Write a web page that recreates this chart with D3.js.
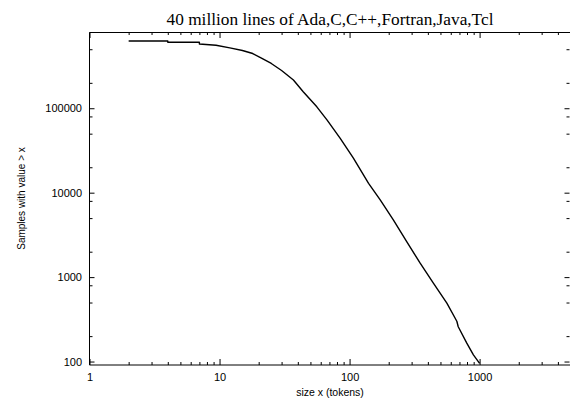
<!DOCTYPE html>
<html>
<head>
<meta charset="utf-8">
<script src="https://cdn.jsdelivr.net/npm/d3@7"></script>
<style>
html,body{margin:0;padding:0;background:#fff;}
svg{display:block;}
</style>
</head>
<body>
<script>
// ---- data ----
const sizes   = [2, 4, 4, 7, 7, 9.4, 12, 15, 18, 21, 25, 30, 37, 44, 56, 67, 84.5, 107, 140, 172, 217, 275, 349, 441, 560, 668, 685, 797, 896, 1000];
const samples = [626000, 626000, 604000, 604000, 577000, 557000, 518000, 483000, 445000, 393000, 339000, 280000, 216000, 157000, 104000, 72700, 44200, 25600, 12900, 8220, 4760, 2640, 1460, 850, 492, 300, 258, 165, 120, 95];
const xMajorTicks = [1, 10, 100, 1000];
const xMinorTicks = [2,3,4,5,6,7,8,9,20,30,40,50,60,70,80,90,200,300,400,500,600,700,800,900,2000,3000,4000];
const yMajorTicks = [100, 1000, 10000, 100000];
const yMinorTicks = [200,500,800,2000,5000,8000,20000,50000,80000,200000,500000];
const titleText = "40 million lines of Ada,C,C++,Fortran,Java,Tcl";
const xTitle = "size x (tokens)";
const yTitle = "Samples with value > x";

const W = 570, H = 401;
const L = 89.5, R = 570.5, T = 32, B = 365;

const svg = d3.select("body").append("svg").attr("width", W).attr("height", H);

const x = d3.scaleLog().domain([1, 5000]).range([L, R]);
const y = d3.scaleLog().domain([91, 800000]).range([B, T]);

const font = "'Liberation Sans', Arial, Helvetica, sans-serif";

function styleAxis(g) {
  g.select(".domain").remove();
  g.selectAll(".tick line").attr("stroke", "#000").attr("stroke-width", 1);
  g.selectAll(".tick text").attr("fill", "#000").style("font-family", font).style("font-size", "11px");
}

// bottom
svg.append("g").attr("transform", `translate(0,${B})`)
  .call(d3.axisBottom(x).tickValues(xMajorTicks).tickFormat(d3.format("d")).tickSize(-6).tickSizeOuter(0).tickPadding(8.5))
  .call(styleAxis);
svg.append("g").attr("transform", `translate(0,${B})`)
  .call(d3.axisBottom(x).tickValues(xMinorTicks).tickFormat("").tickSize(-3).tickSizeOuter(0))
  .call(styleAxis);
// top
svg.append("g").attr("transform", `translate(0,${T})`)
  .call(d3.axisTop(x).tickValues(xMajorTicks).tickFormat("").tickSize(-6).tickSizeOuter(0))
  .call(styleAxis);
svg.append("g").attr("transform", `translate(0,${T})`)
  .call(d3.axisTop(x).tickValues(xMinorTicks).tickFormat("").tickSize(-3).tickSizeOuter(0))
  .call(styleAxis);
// left
svg.append("g").attr("transform", `translate(${L},0)`)
  .call(d3.axisLeft(y).tickValues(yMajorTicks).tickFormat(d3.format("d")).tickSize(-5).tickSizeOuter(0).tickPadding(7.5))
  .call(styleAxis);
svg.append("g").attr("transform", `translate(${L},0)`)
  .call(d3.axisLeft(y).tickValues(yMinorTicks).tickFormat("").tickSize(-3).tickSizeOuter(0))
  .call(styleAxis);
// right
svg.append("g").attr("transform", `translate(${W - 0.5},0)`)
  .call(d3.axisRight(y).tickValues(yMajorTicks).tickFormat("").tickSize(-5).tickSizeOuter(0))
  .call(styleAxis);
svg.append("g").attr("transform", `translate(${W - 0.5},0)`)
  .call(d3.axisRight(y).tickValues(yMinorTicks).tickFormat("").tickSize(-3).tickSizeOuter(0))
  .call(styleAxis);

// frame
svg.append("path")
  .attr("d", `M${R},${T + 0.5}H${L}V${B}H${R}`)
  .attr("fill", "none").attr("stroke", "#000").attr("stroke-width", 1);

// curve
const pts = sizes.map((s, i) => [s, samples[i]]);
svg.append("path")
  .datum(pts)
  .attr("fill", "none").attr("stroke", "#000").attr("stroke-width", 1.4)
  .attr("stroke-linejoin", "round")
  .attr("d", d3.line().x(d => x(d[0])).y(d => y(d[1])));

// title
svg.append("text").attr("x", (L + R) / 2).attr("y", 25).attr("text-anchor", "middle")
  .style("font-family", "'Liberation Serif', 'Times New Roman', serif").style("font-size", "17.3px")
  .text(titleText);
// x title
svg.append("text").attr("x", (L + R) / 2).attr("y", 396).attr("text-anchor", "middle")
  .style("font-family", font).style("font-size", "10.5px").text(xTitle);
// y title
svg.append("text").attr("transform", `translate(25,${(T + B) / 2}) rotate(-90)`).attr("text-anchor", "middle")
  .style("font-family", font).style("font-size", "10px").text(yTitle);
</script>
</body>
</html>
